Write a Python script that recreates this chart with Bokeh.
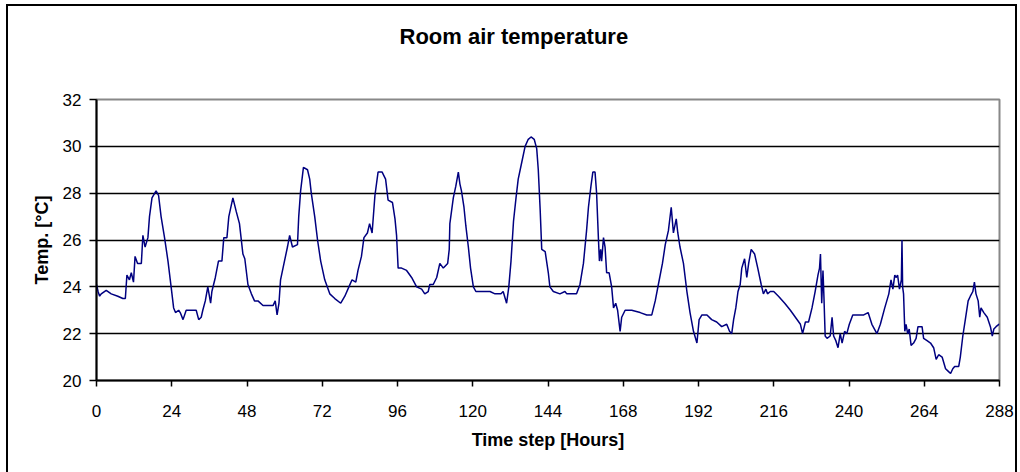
from bokeh.plotting import figure
from bokeh.models import Range1d, FixedTicker, LinearAxis, Title
from bokeh.embed import file_html
from bokeh.resources import INLINE

title_text = "Room air temperature"
x_label = "Time step [Hours]"
y_label = "Temp. [°C]"
x_ticks = [0, 24, 48, 72, 96, 120, 144, 168, 192, 216, 240, 264, 288]
y_ticks = [20, 22, 24, 26, 28, 30, 32]
grid_ticks = [22, 24, 26, 28, 30]

hours = [
    0, 0.5, 1, 1.5, 3.1, 4.7, 6.8, 8.4, 9.2, 9.7, 10.5, 11.1, 11.8, 12.3, 13.1, 14.3,
    14.8, 15.5, 16.4, 16.9, 17.7, 19.0, 19.8, 20.6, 21.7, 22.8, 23.8, 24.6, 25.2, 26.2,
    26.7, 27.6, 28.6, 30.2, 31.8, 32.6, 33.4, 33.9, 34.7, 35.5, 36.4, 36.8, 37.9, 38.9,
    40.0, 40.6, 41.6, 42.2, 43.5, 44.6, 45.6, 46.7, 47.3, 48.3, 49.4, 50.4, 51.5, 53.1,
    56.3, 57.0, 57.6, 58.2, 58.7, 59.8, 60.9, 61.6, 62.5, 64.1, 64.5, 65.1, 66.0, 67.3,
    68.0, 68.5, 69.6, 70.5, 71.5, 72.8, 74.4, 76.0, 77.9, 79.2, 80.5, 81.5, 82.7, 83.4,
    84.5, 85.3, 86.4, 87.1, 87.9, 88.8, 89.8, 91.1, 92.2, 93.0, 94.4, 95.2, 95.7, 96.2,
    97.3, 98.9, 100.5, 102.1, 103.7, 104.7, 105.8, 106.3, 107.4, 108.5, 109.5, 110.6,
    112.0, 112.5, 112.7, 113.8, 114.6, 115.4, 115.9, 116.4, 117.2, 117.8, 118.6, 119.3,
    120.2, 121.0, 122.8, 125.5, 127.1, 129.0, 129.7, 130.8, 131.5, 132.2, 133.0, 133.8,
    134.5, 135.6, 136.7, 137.7, 138.6, 139.6, 140.4, 140.9, 141.5, 142.0, 143.1, 144.1,
    144.6, 145.7, 147.8, 149.4, 150.0, 151.6, 153.1, 154.2, 155.3, 156.3, 156.9, 157.7,
    158.3, 159.0, 159.5, 160.1, 160.4, 160.8, 161.1, 161.7, 162.2, 162.7, 163.5, 164.3,
    164.9, 165.6, 166.2, 167.0, 167.5, 168.6, 170.7, 173.4, 175.5, 177.1, 178.2, 179.2,
    180.5, 181.4, 182.4, 183.3, 184.0, 184.9, 185.4, 186.1, 187.2, 188.3, 189.3, 190.4,
    191.5, 192.2, 193.1, 194.7, 196.2, 197.8, 199.4, 201.0, 201.9, 202.6, 203.2, 203.9,
    204.6, 205.3, 205.8, 206.7, 207.4, 208.0, 208.8, 209.9, 210.9, 212.0, 212.7, 213.5,
    214.0, 214.9, 216.0, 217.5, 219.5, 221.3, 222.9, 224.5, 225.2, 226.1, 227.1, 228.2,
    229.2, 230.1, 230.6, 230.9, 231.3, 231.7, 232.0, 232.4, 233.0, 234.0, 234.6, 235.1,
    235.8, 236.5, 237.2, 237.8, 238.6, 239.3, 240.1, 241.2, 243.1, 244.7, 246.1, 247.3,
    248.9, 250.0, 251.4, 252.7, 253.4, 254.0, 254.6, 255.0, 255.5, 256.1, 256.7, 256.9,
    257.1, 257.4, 257.8, 258.2, 258.7, 259.2, 259.8, 260.6, 261.4, 262.0, 263.3, 263.8,
    264.9, 266.0, 267.0, 267.8, 268.6, 269.7, 270.8, 271.6, 272.4, 273.1, 273.7, 275.0,
    275.5, 276.3, 277.1, 278.0, 278.7, 279.5, 280.0, 280.5, 281.2, 281.7, 282.1, 283.0,
    284.1, 284.6, 285.1, 285.7, 286.2, 286.9, 287.8, 288.0,
]
temps = [
    24.1, 23.8, 23.6, 23.7, 23.85, 23.7, 23.6, 23.5, 23.5, 24.5, 24.3, 24.6, 24.2, 25.3, 25.0, 25.0,
    26.2, 25.7, 26.1, 27.0, 27.8, 28.1, 27.9, 27.0, 26.1, 25.1, 24.0, 23.1, 22.9, 23.0,
    22.9, 22.6, 23.0, 23.0, 23.0, 22.6, 22.7, 23.0, 23.4, 24.0, 23.3, 23.8, 24.4, 25.1,
    25.1, 26.1, 26.1, 27.0, 27.8, 27.2, 26.7, 25.4, 25.2, 24.1, 23.7, 23.4, 23.4, 23.2,
    23.2, 23.4, 22.8, 23.3, 24.3, 25.0, 25.7, 26.2, 25.7, 25.8, 27.0, 28.1, 29.1, 29.0,
    28.6, 28.0, 27.0, 26.0, 25.1, 24.3, 23.7, 23.5, 23.3, 23.6, 24.0, 24.3, 24.2, 24.7,
    25.3, 26.1, 26.3, 26.7, 26.3, 27.9, 28.9, 28.9, 28.6, 27.7, 27.6, 26.9, 26.2, 24.8,
    24.8, 24.7, 24.4, 24.0, 23.9, 23.7, 23.8, 24.1, 24.1, 24.4, 25.0, 24.8,
    25.0, 25.6, 26.7, 27.8, 28.3, 28.9, 28.4, 28.1, 27.4, 26.6, 25.7, 24.8,
    24.0, 23.8, 23.8, 23.8, 23.7, 23.7, 23.8, 23.3, 24.0, 25.1, 26.8, 27.8,
    28.6, 29.3, 30.0, 30.3, 30.4, 30.3, 29.9, 29.0, 27.3, 25.6, 25.5, 24.6,
    24.0, 23.8, 23.7, 23.8, 23.7, 23.7, 23.7, 24.1, 25.0, 26.4, 27.4, 28.3,
    28.9, 28.9, 28.0, 26.0, 25.1, 25.6, 25.1, 26.1, 25.7, 24.6, 24.6, 24.0,
    23.1, 23.3, 23.0, 22.1, 22.7, 23.0, 23.0, 22.9, 22.8, 22.8, 23.4, 24.1,
    25.0, 25.8, 26.4, 27.4, 26.3, 26.9, 26.3, 25.7, 25.0, 23.8, 22.9, 22.1,
    21.6, 22.6, 22.8, 22.8, 22.6, 22.5, 22.3, 22.4, 22.1, 22.0, 22.6, 23.1,
    23.8, 24.1, 24.8, 25.2, 24.4, 25.0, 25.6, 25.4, 24.8, 24.1, 23.7, 23.9,
    23.7, 23.8, 23.8, 23.6, 23.3, 23.0, 22.7, 22.4, 22.0, 22.5, 22.5, 23.1,
    23.8, 24.5, 24.8, 25.4, 23.3, 24.7, 23.6, 21.9, 21.8, 21.9, 22.7, 21.9,
    21.7, 21.4, 22.0, 21.6, 22.1, 22.0, 22.4, 22.8, 22.8, 22.8, 22.9, 22.4,
    22.0, 22.4, 23.1, 23.7, 24.3, 23.9, 24.5, 24.4, 24.5, 23.9, 24.3, 26.0,
    24.0, 23.7, 22.1, 22.4, 22.0, 22.2, 21.5, 21.6, 21.8, 22.3, 22.3, 21.8,
    21.7, 21.6, 21.4, 20.9, 21.1, 21.0, 20.5, 20.4, 20.3, 20.5, 20.6, 20.6,
    21.0, 21.9, 22.6, 23.4, 23.6, 23.8, 24.2, 23.7, 23.4, 22.7, 23.1, 22.9,
    22.7, 22.5, 22.3, 21.9, 22.2, 22.3, 22.4, 22.4,
]

FONT = "Liberation Sans"

p = figure(
    width=1020, height=472,
    output_backend="svg", toolbar_location=None,
    x_range=Range1d(0, 288), y_range=Range1d(20, 32),
    min_border_left=96, min_border_right=21, min_border_top=99, min_border_bottom=92,
)
p.border_fill_color = None
p.background_fill_color = "white"
# outer chart border (left, top, right) painted behind the transparent canvas
p.styles = {
    "background-color": "white",
    "background-image": "linear-gradient(black, black), linear-gradient(black, black), linear-gradient(black, black)",
    "background-size": "2px 480px, 1011px 2px, 2px 480px",
    "background-position": "6px 4px, 6px 4px, 1015px 4px",
    "background-repeat": "no-repeat",
}

# invisible spacer axis between the plot area and the title
spacer = LinearAxis(
    ticker=FixedTicker(ticks=[x_ticks[6]]),
    major_label_overrides={x_ticks[6]: ""},
    axis_line_color=None, major_tick_line_color=None, minor_tick_line_color=None,
    major_tick_in=0, major_tick_out=51, minor_tick_in=0, minor_tick_out=0,
    major_label_standoff=0, major_label_text_font_size="0px", major_label_text_color=None,
)
p.add_layout(spacer, "above")

p.add_layout(Title(
    text=title_text, text_font=FONT, text_font_size="22px", text_font_style="bold",
    text_color="black", align="left", offset=303, standoff=0,
), "above")

p.line(hours, temps, line_color="#000080", line_width=1.5)

p.outline_line_color = "#888888"
p.outline_line_width = 2

xa = p.below[0]
ya = p.left[0]

p.xgrid.visible = False
p.ygrid.ticker = FixedTicker(ticks=grid_ticks)
p.ygrid.grid_line_color = "black"
p.ygrid.grid_line_width = 1.5

xa.ticker = FixedTicker(ticks=x_ticks)
ya.ticker = FixedTicker(ticks=y_ticks)

for ax in (xa, ya):
    ax.axis_line_color = "black"
    ax.axis_line_width = 2
    ax.major_tick_line_color = "black"
    ax.major_tick_line_width = 1.5
    ax.major_tick_in = 0
    ax.minor_tick_line_color = None
    ax.major_label_text_font = FONT
    ax.major_label_text_font_size = "17px"
    ax.major_label_text_color = "black"
    ax.axis_label_text_font = FONT
    ax.axis_label_text_font_size = "18px"
    ax.axis_label_text_font_style = "bold"
    ax.axis_label_text_color = "black"

xa.major_tick_out = 6
ya.major_tick_out = 7
xa.major_label_standoff = 18
ya.major_label_standoff = 8
xa.axis_label = x_label
ya.axis_label = y_label
xa.axis_label_standoff = 10
ya.axis_label_standoff = 8

open("out.html", "w").write(file_html(p, INLINE))
